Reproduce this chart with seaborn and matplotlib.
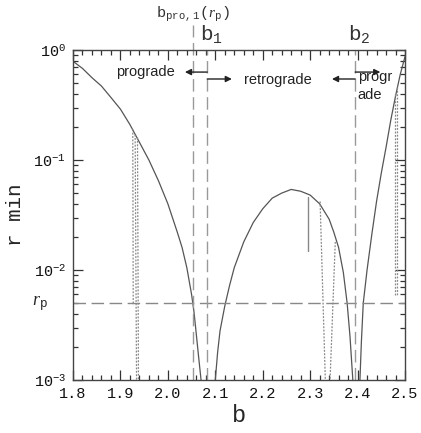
import numpy as np
import pandas as pd
import seaborn as sns
import matplotlib.pyplot as plt
from matplotlib.ticker import LogLocator, MultipleLocator, FixedLocator, FuncFormatter

# ---------------------------------------
# Data
# ---------------------------------------
# solid curve r_min(b), three branches
left_b = [1.80, 1.82, 1.84, 1.86, 1.88, 1.90, 1.92, 1.94, 1.96, 1.98, 2.00,
          2.02, 2.03, 2.04, 2.05, 2.055, 2.06, 2.065, 2.070]
left_r = [0.79, 0.68, 0.56, 0.47, 0.37, 0.29, 0.21, 0.145, 0.10, 0.065, 0.040,
          0.022, 0.016, 0.0105, 0.006, 0.0042, 0.0026, 0.0016, 0.001]

hump_b = [2.100, 2.105, 2.110, 2.120, 2.130, 2.140, 2.160, 2.180, 2.200, 2.220, 2.240,
          2.260, 2.280, 2.300, 2.320, 2.340, 2.350, 2.360, 2.370, 2.378, 2.384, 2.390]
hump_r = [0.001, 0.0018, 0.0028, 0.0047, 0.0072, 0.0105, 0.018, 0.027, 0.036, 0.045, 0.050,
          0.054, 0.052, 0.048, 0.040, 0.029, 0.022, 0.016, 0.0095, 0.005, 0.0025, 0.001]

right_b = [2.405, 2.408, 2.412, 2.420, 2.430, 2.440, 2.450, 2.460, 2.470, 2.480, 2.490, 2.500]
right_r = [0.001, 0.0022, 0.005, 0.010, 0.021, 0.042, 0.076, 0.13, 0.23, 0.38, 0.60, 0.87]

# dotted trajectories (start / end)
dot_b = [[1.926, 1.927], [1.931, 1.934], [1.936, 1.938],
         [2.321, 2.332], [2.353, 2.342],
         [2.479, 2.479], [2.483, 2.483]]
dot_r = [[0.19, 0.0048], [0.17, 0.001], [0.16, 0.001],
         [0.042, 0.001], [0.018, 0.001],
         [0.40, 0.0058], [0.46, 0.0058]]

# short solid segment inside the hump
seg_b = [2.296, 2.296]
seg_r = [0.046, 0.015]

r_p = 0.005
b_pro1 = 2.053
b_1 = 2.083
b_2 = 2.395

x_ticks = [1.8, 1.9, 2.0, 2.1, 2.2, 2.3, 2.4, 2.5]

# ---------------------------------------
# Long tables for seaborn
# ---------------------------------------
curve = pd.concat([
    pd.DataFrame({"b": left_b, "r": left_r, "unit": 0}),
    pd.DataFrame({"b": hump_b, "r": hump_r, "unit": 1}),
    pd.DataFrame({"b": right_b, "r": right_r, "unit": 2}),
])
dots = pd.concat([pd.DataFrame({"b": bb, "r": rr, "unit": i})
                  for i, (bb, rr) in enumerate(zip(dot_b, dot_r))])

# ---------------------------------------
# Plot
# ---------------------------------------
sns.set_theme(style="ticks")
plt.rcParams["font.family"] = ["Liberation Mono", "DejaVu Sans"]
plt.rcParams["mathtext.fontset"] = "custom"
plt.rcParams["mathtext.rm"] = "Liberation Mono"
plt.rcParams["mathtext.it"] = "Liberation Serif:italic"

fig = plt.figure(figsize=(4.21, 4.33), dpi=100)
ax = fig.add_axes([73 / 421, 1 - 380 / 433, 332 / 421, 330 / 433])

sns.lineplot(data=curve, x="b", y="r", units="unit", estimator=None, sort=False,
             color="#555555", lw=0.9, ax=ax)
sns.lineplot(data=dots, x="b", y="r", units="unit", estimator=None, sort=False,
             color="#888888", lw=0.9, ls=(0, (1.5, 1.2)), ax=ax)
ax.plot(seg_b, seg_r, color="#888888", lw=1.0)

ax.set_yscale("log")
ax.set_xlim(1.8, 2.5)
ax.set_ylim(1e-3, 1)

dash = (0, (9, 4))
ax.axhline(r_p, color="#888888", lw=1.0, ls=dash)
ax.axvline(b_pro1, ymin=0, ymax=1.076, color="#999999", lw=1.0, ls=dash, clip_on=False)
ax.axvline(b_1, color="#999999", lw=1.0, ls=dash)
ax.axvline(b_2, color="#999999", lw=1.0, ls=dash)

# ticks
ax.xaxis.set_major_locator(FixedLocator(x_ticks))
ax.xaxis.set_minor_locator(MultipleLocator(0.02))
ax.xaxis.set_major_formatter(FuncFormatter(lambda v, p: f"{v:.1f}"))
ax.yaxis.set_major_locator(LogLocator(base=10, numticks=10))
ax.yaxis.set_minor_locator(LogLocator(base=10, subs=np.arange(2, 10), numticks=10))
ax.yaxis.set_major_formatter(FuncFormatter(lambda v, p: r"$\mathrm{10^{%d}}$" % round(np.log10(v))))
ax.tick_params(which="both", direction="in", top=True, right=True, width=0.9,
               color="#333333", labelcolor="#111111")
ax.tick_params(which="major", length=7, labelsize=11, pad=5)
ax.tick_params(which="minor", length=3.5)
for s in ax.spines.values():
    s.set_linewidth(1.0)
    s.set_color("#444444")

ax.set_xlabel("b", fontsize=17, labelpad=2)
ax.set_ylabel("r min", fontsize=15, labelpad=6)

# r_p label on the left
ax.text(-0.075, r_p, r"$r_{\mathrm{p}}$", transform=ax.get_yaxis_transform(),
        ha="right", va="center", fontsize=13)

# labels above the plot
ax.annotate(r"b$_{\mathrm{pro,1}}$($r_{\mathrm{p}}$)", xy=(b_pro1, 1.08), xycoords=("data", "axes fraction"),
            ha="center", va="bottom", fontsize=11, color="#333333")
ax.annotate(r"b$_1$", xy=(b_1 + 0.008, 1.015), xycoords=("data", "axes fraction"),
            ha="center", va="bottom", fontsize=15, color="#333333")
ax.annotate(r"b$_2$", xy=(b_2 + 0.008, 1.015), xycoords=("data", "axes fraction"),
            ha="center", va="bottom", fontsize=15, color="#333333")

# prograde / retrograde arrows and text
arrow = dict(arrowstyle="-|>", color="#222222", lw=1.0, mutation_scale=9, shrinkA=0, shrinkB=0)
ax.annotate("", xy=(2.036, 0.63), xytext=(b_1, 0.63), arrowprops=arrow)
ax.annotate("", xy=(2.135, 0.545), xytext=(b_1, 0.545), arrowprops=arrow)
ax.annotate("", xy=(2.346, 0.545), xytext=(b_2, 0.545), arrowprops=arrow)
ax.annotate("", xy=(2.448, 0.63), xytext=(b_2, 0.63), arrowprops=arrow)

txt = dict(family=["Liberation Sans", "DejaVu Sans"], fontsize=10.5, color="#222222")
ax.text(1.952, 0.63, "prograde", ha="center", va="center", **txt)
ax.text(2.232, 0.53, "retrograde", ha="center", va="center", **txt)
ax.text(2.400, 0.47, "progr\nade", ha="left", va="center", linespacing=1.3, **txt)

fig.savefig("out.png", dpi=100)
